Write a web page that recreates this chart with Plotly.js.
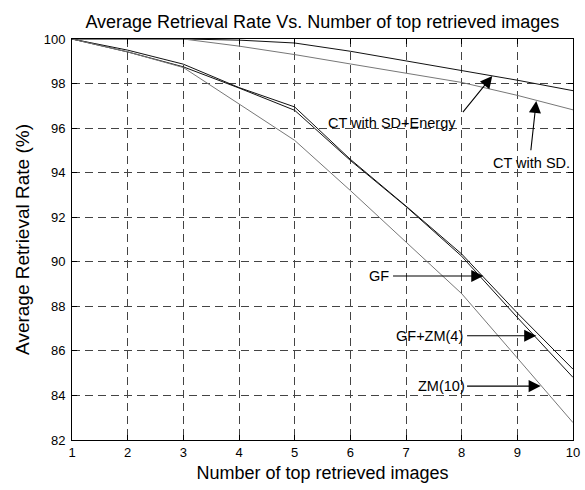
<!DOCTYPE html>
<html>
<head>
<meta charset="utf-8">
<script src="https://cdn.plot.ly/plotly-3.0.1.min.js"></script>
<style>
html,body{margin:0;padding:0;background:#fff;}
#chart{width:585px;height:490px;}
</style>
</head>
<body>
<div id="chart"></div>
<script>
// Data
const topImages = [1, 2, 3, 4, 5, 6, 7, 8, 9, 10];
const ctSdEnergy = [100, 100, 100, 99.95, 99.82, 99.45, 99.02, 98.58, 98.15, 97.68];
const ctSd = [100, 100, 100, 99.68, 99.3, 98.88, 98.48, 98.05, 97.47, 96.82];
const gf = [100, 99.5, 98.87, 97.82, 96.95, 94.6, 92.5, 90.35, 87.7, 85.18];
const gfZm4 = [100, 99.42, 98.75, 97.8, 96.8, 94.55, 92.48, 90.25, 87.5, 84.81];
const zm10 = [100, 99.42, 98.72, 97.1, 95.45, 93.2, 90.9, 88.57, 85.68, 82.78];
const xTicks = [1, 2, 3, 4, 5, 6, 7, 8, 9, 10];
const yTicks = [82, 84, 86, 88, 90, 92, 94, 96, 98, 100];

// Labels: [text, textX, textY, tailX, tailY, tipX, tipY]
const labels = [
  ["CT with SD+Energy", 6.74, 96.24, 8.0, 96.65, 8.55, 98.34],
  ["CT with SD.", 9.26, 94.45, 9.24, 94.94, 9.34, 97.22],
  ["GF", 6.52, 89.36, 6.74, 89.36, 8.39, 89.36],
  ["GF+ZM(4)", 7.42, 86.68, 8.07, 86.68, 9.34, 86.68],
  ["ZM(10)", 7.63, 84.42, 8.07, 84.42, 9.42, 84.42]
];

const FONT = 'Liberation Sans, Arial, Helvetica, sans-serif';
const dark = '#111111';
const gray = '#777777';
const traces = [
  {x: topImages, y: ctSdEnergy, name: 'CT with SD+Energy', color: dark},
  {x: topImages, y: ctSd, name: 'CT with SD.', color: gray},
  {x: topImages, y: gf, name: 'GF', color: dark},
  {x: topImages, y: gfZm4, name: 'GF+ZM(4)', color: dark},
  {x: topImages, y: zm10, name: 'ZM(10)', color: gray}
].map(t => ({x: t.x, y: t.y, name: t.name, type: 'scatter', mode: 'lines',
  line: {color: t.color, width: 1}, cliponaxis: false, hoverinfo: 'skip'}));

const annotations = [];
labels.forEach(l => {
  annotations.push({x: l[1], y: l[2], xref: 'x', yref: 'y', text: l[0], showarrow: false,
    font: {family: FONT, size: 14.5, color: '#000'}, bgcolor: 'rgba(0,0,0,0)'});
  annotations.push({x: l[5], y: l[6], xref: 'x', yref: 'y', ax: l[3], ay: l[4], axref: 'x', ayref: 'y',
    text: '', showarrow: true, arrowhead: 2, arrowsize: 2.2, arrowwidth: 1.1, arrowcolor: '#000'});
});

const axisCommon = {
  showline: true, linecolor: '#000', linewidth: 1, mirror: 'ticks',
  ticks: 'inside', ticklen: 5, tickcolor: '#000', tickwidth: 1,
  showgrid: true, gridcolor: '#444', gridwidth: 1, griddash: '8px,5px',
  zeroline: false, tickfont: {family: FONT, size: 13, color: '#000'}
};

const layout = {
  width: 585, height: 490,
  margin: {l: 72, r: 12, t: 39, b: 50},
  paper_bgcolor: '#fff', plot_bgcolor: '#fff',
  showlegend: false,
  title: {text: 'Average Retrieval Rate Vs. Number of top retrieved images',
    font: {family: FONT, size: 18, color: '#000'},
    x: 0.551, xanchor: 'center', y: 0.955, yanchor: 'middle'},
  xaxis: Object.assign({}, axisCommon, {range: [1, 10], tickvals: xTicks, ticktext: xTicks.map(String),
    title: {text: 'Number of top retrieved images', standoff: 7,
      font: {family: FONT, size: 18, color: '#000'}}}),
  yaxis: Object.assign({}, axisCommon, {range: [82, 100], tickvals: yTicks, ticktext: yTicks.map(String),
    ticklabelstandoff: 3,
    title: {text: 'Average Retrieval Rate (%)', standoff: 9,
      font: {family: FONT, size: 19, color: '#000'}}}),
  annotations: annotations
};

Plotly.newPlot('chart', traces, layout, {displayModeBar: false, staticPlot: true});
</script>
</body>
</html>
